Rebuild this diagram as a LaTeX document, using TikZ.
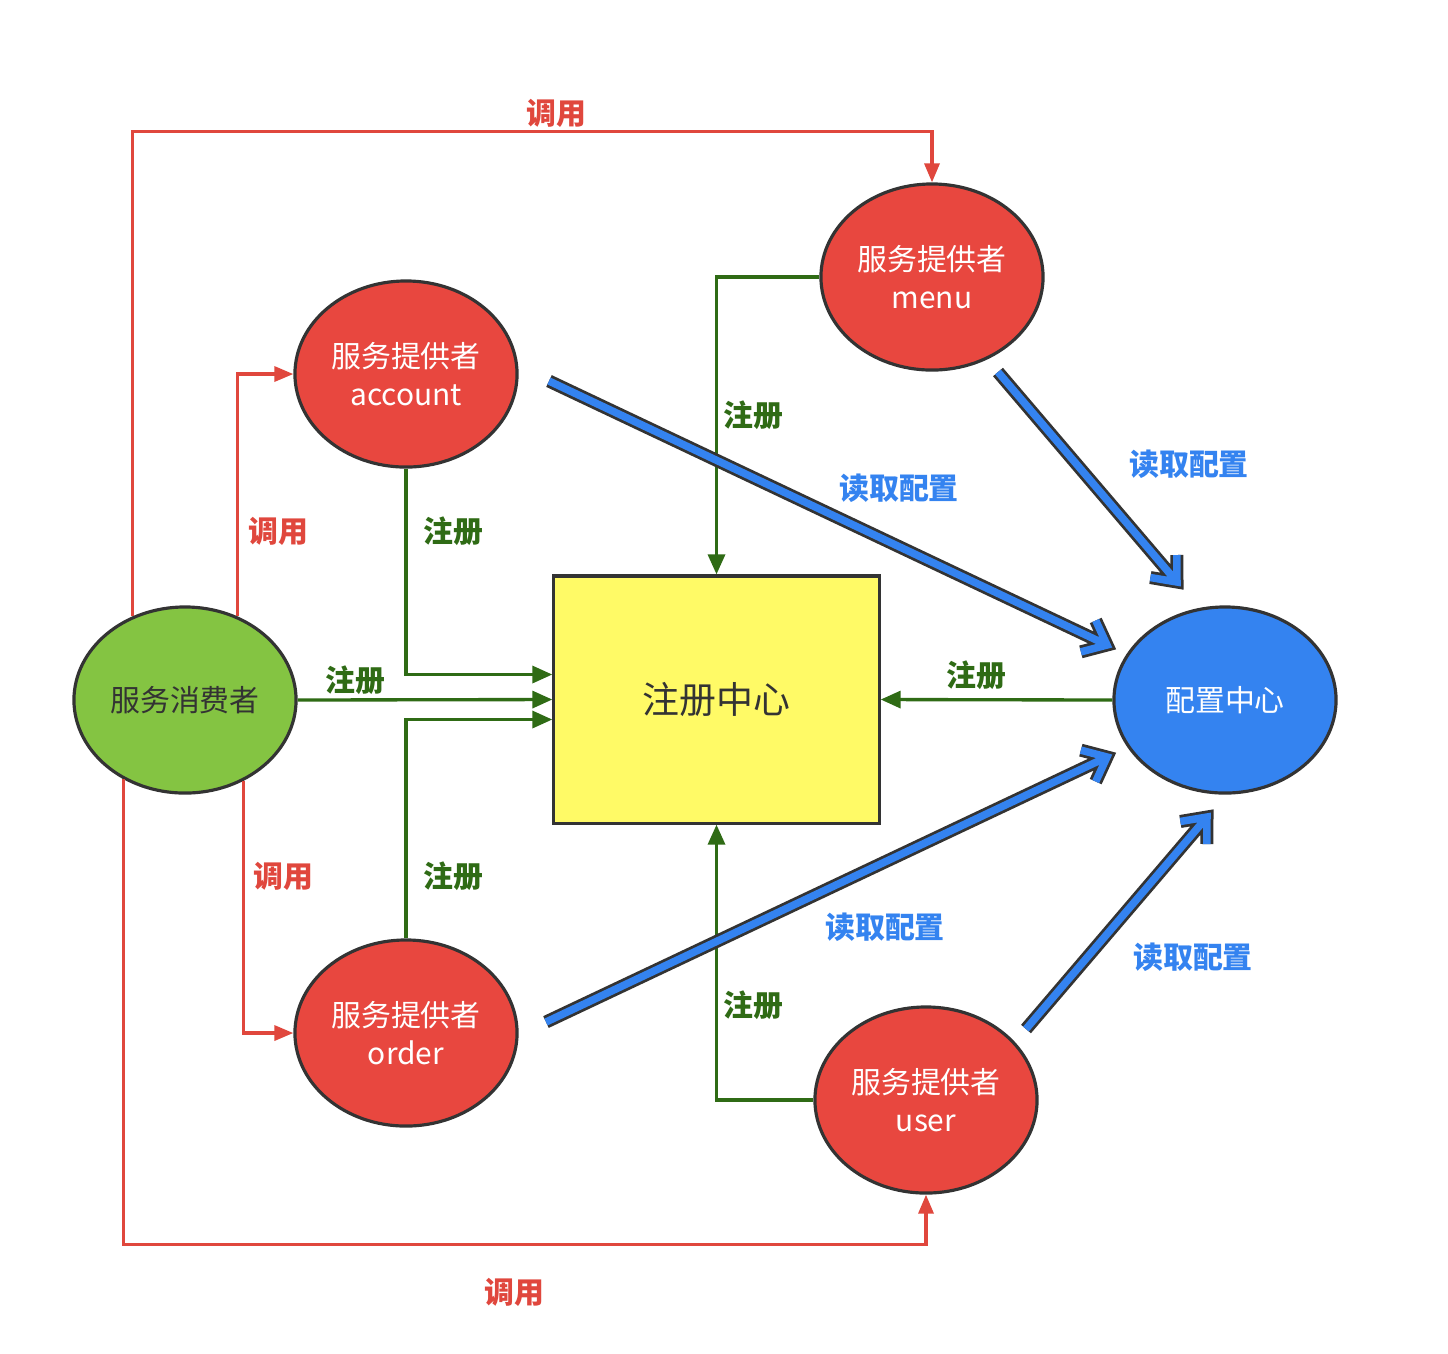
\documentclass[tikz,border=0pt]{standalone}
\usepackage{fontspec}
\setmainfont{Noto Sans CJK SC}
\usetikzlibrary{shapes.geometric,arrows.meta,calc}
\definecolor{provred}{HTML}{E8473F}
\definecolor{callred}{HTML}{E0473D}
\definecolor{consgreen}{HTML}{84C442}
\definecolor{regyellow}{HTML}{FFFA66}
\definecolor{cfgblue}{HTML}{3483F0}
\definecolor{reggreen}{HTML}{2F6B15}
\definecolor{edge}{HTML}{333333}
\tikzset{
  every node/.style={font=\fontsize{8.5}{10.8}\selectfont},
  oval/.style={ellipse, draw=edge, line width=0.9pt, minimum width=2.22cm,
    minimum height=1.86cm, inner sep=0pt, align=center},
  prov/.style={oval, fill=provred, text=white},
  cons/.style={oval, fill=consgreen, text=edge},
  cfg/.style={oval, fill=cfgblue, text=white},
  center/.style={draw=edge, line width=0.9pt, fill=regyellow, minimum width=3.25cm,
    minimum height=2.47cm, inner sep=0pt, font=\fontsize{10.5}{12}\selectfont, text=edge},
  call/.style={draw=callred, line width=0.95pt, -{Triangle[length=0.19cm,width=0.15cm]}},
  reg/.style={draw=reggreen, line width=0.95pt, -{Triangle[length=0.2cm,width=0.17cm]}},
  calllbl/.style={text=callred, font=\fontsize{8.5}{10}\selectfont\bfseries},
  reglbl/.style={text=reggreen, font=\fontsize{8.5}{10}\selectfont\bfseries},
  cfglbl/.style={text=cfgblue, font=\fontsize{8.5}{10}\selectfont\bfseries},
  cfgout/.style={draw=edge, line width=0.13cm, line join=miter},
  cfgin/.style={draw=cfgblue, line width=0.075cm, line join=miter},
}
% thick outlined arrow with an open chevron head
\newcommand\cfgarrow[2]{%
  \draw[cfgout] (#1) -- ($(#2)!0.03cm!(#1)$)
    ($(#2)!0.27cm!40:(#1)$) -- (#2) -- ($(#2)!0.27cm!-40:(#1)$);
  \draw[cfgin] (#1) -- ($(#2)!0.03cm!(#1)$)
    ($(#2)!0.27cm!40:(#1)$) -- (#2) -- ($(#2)!0.27cm!-40:(#1)$);
}
\begin{document}
\begin{tikzpicture}[x=0.01cm, y=-0.01cm]
\useasboundingbox (0,0) rectangle (1448,1353);
\fill[white] (0,0) rectangle (1448,1353);

% nodes
\node[cons] (con) at (185,700) {服务消费者};
\node[prov] (acc) at (406,374) {服务提供者\\account};
\node[prov] (menu) at (932,277) {服务提供者\\menu};
\node[prov] (ord) at (406,1033) {服务提供者\\order};
\node[prov] (usr) at (926,1100) {服务提供者\\user};
\node[cfg] (cfgc) at (1225,700) {配置中心};
\node[center] (reg) at (716.5,699.5) {注册中心};

% calls from the consumer
\draw[call] (con.122) |- ($(menu.north)+(0,-51)$) -- (menu.north);
\draw[call] (con.58) |- (acc.west);
\draw[call] (con.-54) |- (ord.west);
\draw[call] (con.232) |- ($(usr.south)+(0,50)$) -- (usr.south);

% registrations
\draw[reg] (acc.south) |- ($(reg.west)+(0,-25)$);
\draw[reg] (con.east) -- (reg.west);
\draw[reg] (ord.north) |- ($(reg.west)+(0,20)$);
\draw[reg] (menu.west) -| (reg.north);
\draw[reg] (usr.west) -| (reg.south);
\draw[reg] (cfgc.west) -- (reg.east);

% configuration reads
\coordinate (a1) at (549,381);  \coordinate (b1) at (1107,645);
\coordinate (a2) at (998,372);  \coordinate (b2) at (1177,582);
\coordinate (a3) at (546,1022); \coordinate (b3) at (1107,757);
\coordinate (a4) at (1026,1029);\coordinate (b4) at (1207,817);
\cfgarrow{a1}{b1}
\cfgarrow{a2}{b2}
\cfgarrow{a3}{b3}
\cfgarrow{a4}{b4}

% labels
\node[calllbl] (l1) at (556,113) {调用};
\node[calllbl] (l2) at (278,531) {调用};
\node[calllbl] (l3) at (283,876) {调用};
\node[calllbl] (l4) at (514,1292) {调用};
\node[reglbl] (r1) at (453,531) {注册};
\node[reglbl] (r2) at (355,680) {注册};
\node[reglbl] (r3) at (453,876) {注册};
\node[reglbl] (r4) at (753,415) {注册};
\node[reglbl] (r5) at (753,1005) {注册};
\node[reglbl] (r6) at (976,675) {注册};
\node[cfglbl] (c1) at (899,488) {读取配置};
\node[cfglbl] (c2) at (1189,464) {读取配置};
\node[cfglbl] (c3) at (885,927) {读取配置};
\node[cfglbl] (c4) at (1193,957) {读取配置};
\end{tikzpicture}
\end{document}
